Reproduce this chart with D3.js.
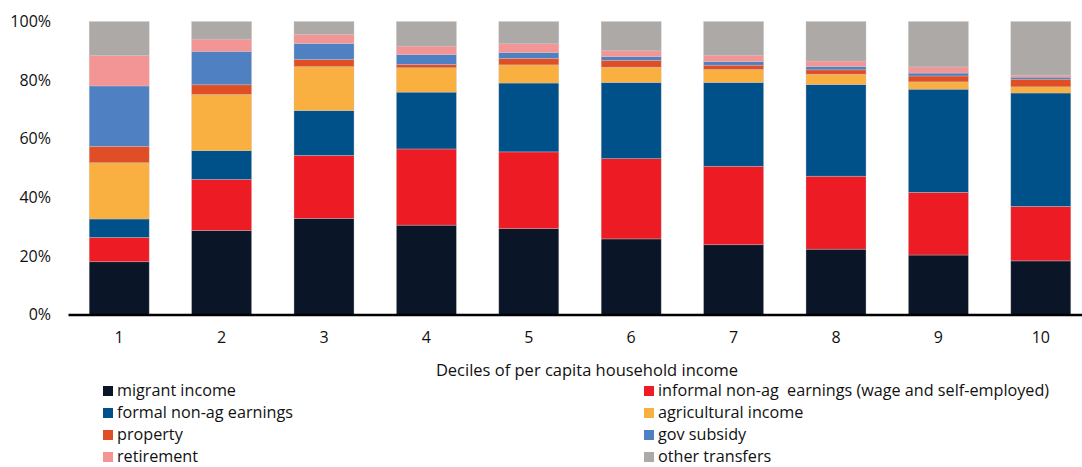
<!DOCTYPE html>
<html>
<head>
<meta charset="utf-8">
<script src="https://cdn.jsdelivr.net/npm/d3@7"></script>
<style>
  body { margin: 0; background: #fff; }
  svg text { font-family: "Open Sans", "Noto Sans", sans-serif; fill: #111; }
</style>
</head>
<body>
<div class="chart"></div>
<script>
const WIDTH = 1082
const HEIGHT = 467

// deciles 1..10
const deciles = ["1", "2", "3", "4", "5", "6", "7", "8", "9", "10"];

const seriesNames = ["migrant income", "informal non-ag  earnings (wage and self-employed)",
  "formal non-ag earnings", "agricultural income", "property", "gov subsidy", "retirement", "other transfers"];
const seriesColors = ["#0a1628", "#ed1c24", "#00508a", "#f9b040", "#e04e25", "#4f81c2", "#f49595", "#ada9a7"];

// shares in %, per decile
const migrant    = [18.0, 28.7, 32.8, 30.5, 29.3, 25.8, 23.8, 22.3, 20.3, 18.3];
const informal   = [ 8.3, 17.4, 21.5, 26.0, 26.2, 27.4, 26.8, 24.9, 21.4, 18.6];
const formal     = [ 6.3,  9.8, 15.3, 19.4, 23.5, 26.0, 28.6, 31.3, 35.2, 38.7];
const agri       = [19.2, 19.2, 15.0,  8.3,  6.2,  5.2,  4.4,  3.5,  2.5,  2.1];
const property   = [ 5.6,  3.3,  2.4,  1.2,  2.2,  2.3,  1.5,  1.5,  2.0,  2.6];
const govSubsidy = [20.6, 11.4,  5.5,  3.3,  2.0,  1.3,  1.2,  1.1,  1.0,  0.7];
const retirement = [10.4,  4.2,  3.1,  2.9,  3.0,  2.0,  2.2,  1.9,  2.1,  0.7];
const otherTrans = [11.6,  6.0,  4.4,  8.4,  7.6, 10.0, 11.5, 13.5, 15.5, 18.3];

const yTicks = [0, 20, 40, 60, 80, 100];

const allSeries = [migrant, informal, formal, agri, property, govSubsidy, retirement, otherTrans];
const keys = d3.range(allSeries.length).map(String);

// table for d3.stack
const table = deciles.map((d, i) => {
  let row = { decile: d };
  allSeries.forEach((s, k) => row[k] = s[i]);
  return row;
});

const stacked = d3.stack().keys(keys)(table);

const svg = d3.select("div.chart")
            .append("svg")
            .attr("width", WIDTH)
            .attr("height", HEIGHT);

const x = d3.scaleBand()
            .domain(deciles)
            .range([68, 1092])
            .paddingInner(0.414)
            .paddingOuter(0.207);

const y = d3.scaleLinear()
            .domain([0, 100])
            .range([314.5, 21.5]);

// bars
svg.selectAll("g.layer")
   .data(stacked)
   .enter()
   .append("g")
   .attr("class", "layer")
   .attr("fill", (d, i) => seriesColors[i])
   .selectAll("rect")
   .data(d => d)
   .enter()
   .append("rect")
   .attr("x", d => x(d.data.decile))
   .attr("width", x.bandwidth())
   .attr("y", d => y(d[1]))
   .attr("height", d => y(d[0]) - y(d[1]))
   .attr("stroke", "rgba(200,200,200,0.6)")
   .attr("stroke-width", 0.6);

// y axis (labels only)
const yAxis = svg.append("g")
   .attr("transform", "translate(51,0)")
   .call(d3.axisLeft(y).tickValues(yTicks).tickFormat(d => d + "%").tickSize(0).tickPadding(0));
yAxis.select(".domain").remove();
yAxis.selectAll("text").style("font-size", "16px").attr("fill", "#111");

// x axis
const xAxis = svg.append("g")
   .attr("transform", "translate(0," + y(0) + ")")
   .call(d3.axisBottom(x).tickSize(0).tickPadding(17));
xAxis.select(".domain").attr("stroke", "#000").attr("stroke-width", 2.5);
xAxis.selectAll("text").style("font-size", "16px").attr("fill", "#111");

svg.append("text")
   .attr("x", 587)
   .attr("y", 376)
   .attr("text-anchor", "middle")
   .style("font-size", "16.5px")
   .text("Deciles of per capita household income");

// legend, two columns
const legend = svg.selectAll("g.legend")
   .data(seriesNames)
   .enter()
   .append("g")
   .attr("class", "legend")
   .attr("transform", (d, i) => "translate(" + (i % 2 === 0 ? 103 : 644) + "," + (386 + Math.floor(i / 2) * 22) + ")");

legend.append("rect")
   .attr("width", 10)
   .attr("height", 10)
   .attr("fill", (d, i) => seriesColors[i]);

legend.append("text")
   .attr("x", 14)
   .attr("y", 10)
   .style("font-size", "16.2px")
   .style("white-space", "pre")
   .text(d => d);
</script>
</body>
</html>
